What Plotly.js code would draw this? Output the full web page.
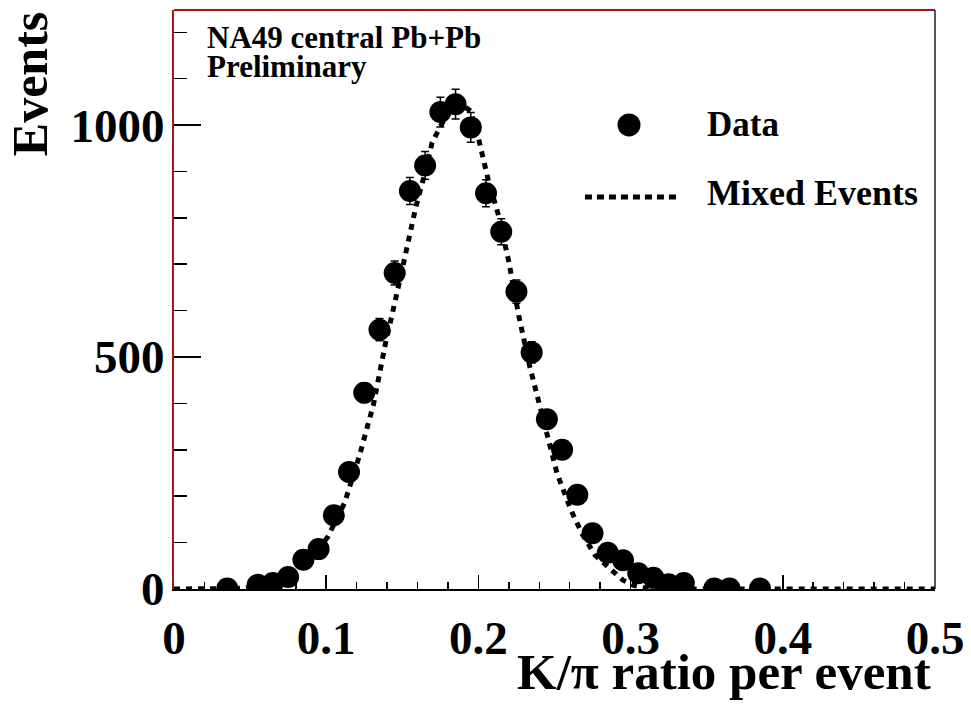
<!DOCTYPE html>
<html>
<head>
<meta charset="utf-8">
<script src="https://cdn.plot.ly/plotly-3.0.1.min.js"></script>
<style>html,body{margin:0;padding:0;background:#fff;}#chart{width:971px;height:705px;}</style>
</head>
<body>
<div id="chart"></div>
<script>
// Data points (K/pi ratio bin centres and event counts)
const dataX = [0.035, 0.055, 0.065, 0.075, 0.085, 0.095, 0.105, 0.115, 0.125, 0.135, 0.145, 0.155, 0.165, 0.175, 0.185, 0.195, 0.205, 0.215, 0.225, 0.235, 0.245, 0.255, 0.265, 0.275, 0.285, 0.295, 0.305, 0.315, 0.325, 0.335, 0.355, 0.365, 0.385];
const dataY = [1, 9, 13, 26, 63, 86, 159, 252, 423, 559, 681, 858, 913, 1028, 1045, 995, 853, 770, 641, 510, 366, 300, 203, 120, 78, 62, 34, 24, 10, 13, 1, 1, 1];
const dataErr = [1, 3, 4, 5, 8, 9, 13, 16, 21, 24, 26, 29, 30, 32, 32, 32, 29, 28, 25, 23, 19, 17, 14, 11, 9, 8, 6, 5, 3, 4, 1, 1, 1];

// Mixed-events curve
const mixX = [0, 0.02, 0.04, 0.05, 0.06, 0.07, 0.08, 0.09, 0.101, 0.112, 0.122, 0.131, 0.139, 0.1465, 0.152, 0.159, 0.164, 0.1695, 0.175, 0.18, 0.185, 0.19, 0.195, 0.2, 0.2063, 0.2135, 0.22, 0.2267, 0.234, 0.24, 0.247, 0.2516, 0.2608, 0.2683, 0.2766, 0.2884, 0.295, 0.302, 0.31, 0.33, 0.4, 0.5];
const mixY = [0, 0, 1, 3, 8, 18, 35, 65, 112, 185, 289, 397, 530, 638, 720, 825, 886, 961, 997, 1025, 1040, 1042, 1030, 972, 884, 802, 705, 586, 476, 397, 315, 250, 170, 118, 73, 37, 19, 8, 2, 0, 0, 0];

// Tick labels
const xTickVals = [0, 0.1, 0.2, 0.3, 0.4, 0.5];
const xTickText = ['0', '0.1', '0.2', '0.3', '0.4', '0.5'];
const yTickVals = [0, 500, 1000];
const yTickText = ['0', '500', '1000'];

const FONT = '"Liberation Serif", "Times New Roman", Times, serif';

const traces = [
  {
    x: mixX, y: mixY, type: 'scatter', mode: 'lines', name: 'Mixed Events',
    line: {color: '#000', width: 5, dash: '6px,6px'},
    showlegend: false, hoverinfo: 'skip'
  },
  {
    x: dataX, y: dataY, type: 'scatter', mode: 'markers', name: 'Data',
    marker: {color: '#000', size: 22, symbol: 'circle'},
    error_y: {type: 'data', array: dataErr, visible: true, color: '#000', thickness: 1.5, width: 4},
    showlegend: false
  }
];

const layout = {
  width: 971, height: 705,
  margin: {l: 174, r: 36, t: 10, b: 116},
  paper_bgcolor: '#fff', plot_bgcolor: '#fff',
  showlegend: false,
  font: {family: FONT, color: '#000'},
  xaxis: {
    range: [0, 0.5], showgrid: false, zeroline: false,
    showline: true, linecolor: '#000', linewidth: 2,
    tickmode: 'array', tickvals: xTickVals, ticktext: xTickText,
    ticks: 'inside', ticklen: 14, tickwidth: 1.5, tickcolor: '#000',
    minor: {tickmode: 'linear', tick0: 0, dtick: 0.02, ticks: 'inside', ticklen: 7, tickwidth: 1.5, tickcolor: '#000'},
    tickfont: {family: FONT, size: 47, weight: 'bold', color: '#000'},
    ticklabelstandoff: 7
  },
  yaxis: {
    range: [0, 1248], showgrid: false, zeroline: false,
    showline: true, linecolor: '#a01818', linewidth: 2,
    tickmode: 'array', tickvals: yTickVals, ticktext: yTickText,
    ticks: 'inside', ticklen: 27, tickwidth: 1.5, tickcolor: '#000',
    minor: {tickmode: 'linear', tick0: 0, dtick: 100, ticks: 'inside', ticklen: 13, tickwidth: 1.5, tickcolor: '#000'},
    tickfont: {family: FONT, size: 47, weight: 'bold', color: '#000'},
    ticklabelstandoff: -2
  },
  shapes: [
    {type: 'line', xref: 'paper', yref: 'paper', x0: 0, x1: 1, y0: 1, y1: 1, line: {color: '#a01818', width: 2}},
    {type: 'line', xref: 'paper', yref: 'paper', x0: 1, x1: 1, y0: 0, y1: 1, line: {color: '#222', width: 1.5}},
    // legend symbols
    {type: 'circle', xref: 'paper', yref: 'paper', xsizemode: 'pixel', ysizemode: 'pixel',
     xanchor: 0.5979, yanchor: 0.8014, x0: -11.5, x1: 11.5, y0: -11.5, y1: 11.5,
     fillcolor: '#000', line: {color: '#000', width: 0}},
    {type: 'line', xref: 'paper', yref: 'paper', x0: 0.540, x1: 0.6597, y0: 0.677, y1: 0.677,
     line: {color: '#000', width: 5, dash: '7px,5px'}}
  ],
  annotations: [
    {text: '<b>NA49 central Pb+Pb</b>', xref: 'paper', yref: 'paper', x: 0.0407, y: 0.952,
     xanchor: 'left', yanchor: 'middle', showarrow: false, font: {family: FONT, size: 31, color: '#000'}},
    {text: '<b>Preliminary</b>', xref: 'paper', yref: 'paper', x: 0.0407, y: 0.9016,
     xanchor: 'left', yanchor: 'middle', showarrow: false, font: {family: FONT, size: 31, color: '#000'}},
    {text: '<b>Data</b>', xref: 'paper', yref: 'paper', x: 0.6978, y: 0.8014,
     xanchor: 'left', yanchor: 'middle', showarrow: false, font: {family: FONT, size: 35, color: '#000'}},
    {text: '<b>Mixed Events</b>', xref: 'paper', yref: 'paper', x: 0.6978, y: 0.684,
     xanchor: 'left', yanchor: 'middle', showarrow: false, font: {family: FONT, size: 36, color: '#000'}},
    {text: '<b>K/π ratio per event</b>', xref: 'paper', yref: 'paper', x: 0.997, y: -0.1434,
     xanchor: 'right', yanchor: 'middle', showarrow: false, font: {family: FONT, size: 51, color: '#000'}},
    {text: '<b>Events</b>', xref: 'paper', yref: 'paper', x: -0.189, y: 1.0, textangle: -90,
     xanchor: 'center', yanchor: 'top', showarrow: false, font: {family: FONT, size: 50, color: '#000'}}
  ]
};

Plotly.newPlot('chart', traces, layout, {displayModeBar: false, staticPlot: true});
</script>
</body>
</html>
